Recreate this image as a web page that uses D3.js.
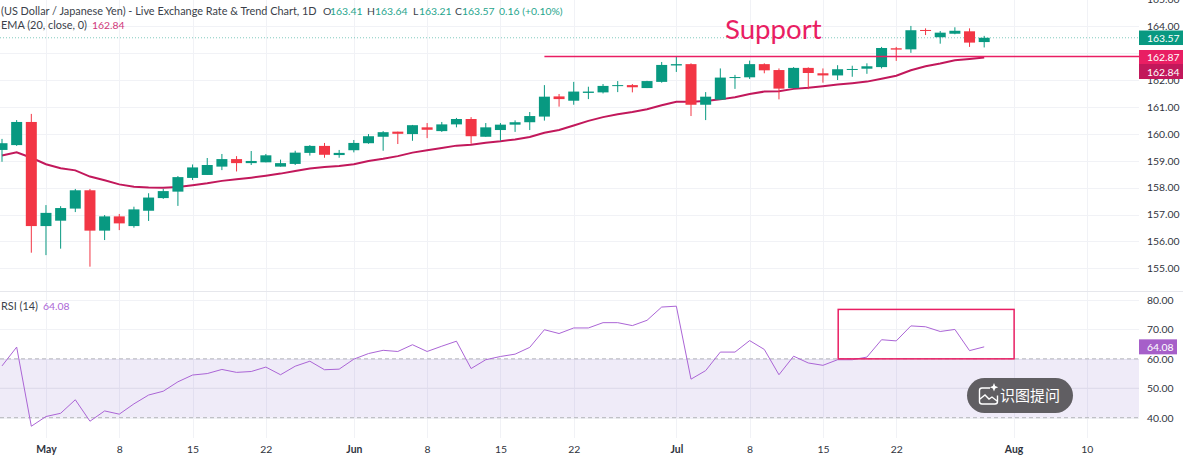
<!DOCTYPE html>
<html>
<head>
<meta charset="utf-8">
<style>
  html, body { margin: 0; padding: 0; background: #fff; overflow: hidden; }
  svg { display: block; }
  text { font-family: "Lato", "Noto Sans", sans-serif; }
  .axis text { font-size: 10.4px; fill: #2f333d; }
  .axis .domain, .axis line { display: none; }
</style>
<script src="https://cdn.jsdelivr.net/npm/d3@7"></script>
</head>
<body>
<svg id="chart" width="1183" height="463"></svg>
<script>
var opens = [159.40,159.58,160.44,156.57,156.77,157.22,157.90,156.40,156.93,156.57,157.14,157.61,157.85,158.36,158.47,158.78,159.06,158.91,158.94,158.78,
  158.88,159.29,159.55,159.21,159.39,159.65,159.89,160.08,159.99,160.24,160.10,160.35,160.55,159.89,160.14,160.34,160.43,160.64,161.39,161.23,
  161.52,161.54,161.78,161.81,161.70,161.93,162.54,162.59,161.08,161.27,162.09,162.10,162.59,162.37,161.70,162.45,162.25,162.17,162.38,162.42,
  162.48,163.18,163.14,163.86,163.59,163.72,163.81,163.41];
var highs = [159.81,160.51,160.74,157.35,157.31,157.95,157.95,156.98,157.02,157.29,157.79,157.95,158.43,158.86,159.10,159.25,159.17,159.36,159.25,159.04,
  159.37,159.58,159.66,159.40,159.77,159.99,160.10,160.08,160.33,160.40,160.44,160.59,160.62,160.40,160.40,160.50,160.81,161.81,161.48,161.93,
  161.75,161.85,161.96,161.85,161.97,162.67,162.89,162.62,161.55,162.43,162.19,162.72,162.62,162.43,162.48,162.47,162.43,162.55,162.53,162.62,
  163.23,163.23,164.01,163.92,163.82,163.96,163.92,163.64];
var lows = [158.96,159.55,155.58,155.49,155.73,157.09,155.06,156.05,156.42,156.51,156.76,157.58,157.32,158.28,158.47,158.65,158.60,158.84,158.94,158.78,
  158.84,159.19,159.11,159.11,159.31,159.63,159.37,159.62,159.74,159.84,160.07,160.24,159.63,159.89,159.74,160.07,160.14,160.49,161.01,161.08,
  161.29,161.50,161.55,161.54,161.70,161.90,162.30,160.66,160.51,161.26,161.67,162.04,162.25,161.28,161.69,161.66,161.90,162.00,162.12,162.23,
  162.43,162.71,163.01,163.67,163.35,163.70,163.23,163.21];
var closes = [159.65,160.44,156.57,157.06,157.24,157.90,156.40,156.93,156.67,157.19,157.63,157.87,158.39,158.75,158.84,159.06,158.91,158.99,159.20,158.91,
  159.30,159.55,159.22,159.29,159.66,159.91,160.06,160.00,160.32,160.15,160.35,160.55,159.91,160.24,160.34,160.43,160.66,161.38,161.29,161.57,
  161.57,161.78,161.81,161.73,161.96,162.56,162.59,161.08,161.38,162.09,162.11,162.59,162.36,161.68,162.45,162.26,162.17,162.40,162.41,162.51,
  163.19,163.13,163.85,163.83,163.76,163.83,163.39,163.57];
var emaValues = [159.19,159.31,159.11,158.87,158.72,158.64,158.41,158.27,158.12,158.03,158.00,157.99,158.02,158.09,158.16,158.25,158.31,158.37,158.44,158.52,
  158.62,158.71,158.77,158.80,158.87,158.99,159.07,159.17,159.30,159.39,159.47,159.56,159.59,159.67,159.72,159.79,159.88,160.04,160.14,160.31,
  160.48,160.62,160.73,160.81,160.91,161.06,161.19,161.19,161.22,161.28,161.36,161.48,161.57,161.58,161.67,161.71,161.77,161.83,161.88,161.94,
  162.05,162.16,162.36,162.51,162.61,162.73,162.78,162.84];
var rsiValues = [57.6,64.0,37.1,40.4,41.5,46.1,38.8,42.3,41.2,44.7,47.7,49.0,52.2,54.5,55.0,56.4,55.4,55.7,57.2,54.6,
  57.5,59.2,56.3,56.5,59.9,61.8,62.9,62.5,64.8,62.5,64.3,66.0,56.7,59.7,60.8,61.6,63.9,69.9,68.6,70.5,
  70.5,72.3,72.3,71.3,73.1,77.6,77.9,53.1,56.0,62.3,62.3,66.2,63.2,54.6,60.9,58.6,57.8,59.7,59.7,60.6,
  66.5,66.1,71.2,70.9,69.3,70.0,62.8,64.08];

var dateTicks = [3,8,13,18,24,29,34,39,46,51,56,61,69,74];
var dateLabels = ["May","8","15","22","Jun","8","15","22","Jul","8","15","22","Aug","10"];
var boldLabels = ["May","Jun","Jul","Aug"];
var priceTicks = [155,156,157,158,159,160,161,162,163,164,165];
var priceLabels = [155,156,157,158,159,160,161,162,164,165]; // 163 sits behind the tags
var rsiTicks = [40,50,60,70,80];
var supportLevel = 162.87, lastEma = 162.84, lastClose = 163.57, lastRsi = 64.08;
var supportStart = 37.0; // bar position where the drawn line begins

var width = 1183, height = 463, axisLeft = 1139, pricePaneBottom = 291, rsiPaneBottom = 438;
var green = "#089981", red = "#f23645", pink = "#e91e63", emaColor = "#c2185b", purple = "#ab65d6";

var svg = d3.select("#chart");

var x = d3.scaleLinear().domain([0, 77.56]).range([2, axisLeft]);
var y = d3.scaleLinear().domain([165, 155]).range([-0.7, 268.3]);
var yRsi = d3.scaleLinear().domain([80, 40]).range([300, 417.7]);

// gridlines
var grid = svg.append("g").attr("stroke", "#f1f2f6").attr("stroke-width", 1);
grid.selectAll(".v").data(dateTicks).enter().append("line")
    .attr("x1", function (d) { return Math.round(x(d)) + 0.5; })
    .attr("x2", function (d) { return Math.round(x(d)) + 0.5; })
    .attr("y1", 0).attr("y2", rsiPaneBottom);
grid.selectAll(".h").data(priceTicks).enter().append("line")
    .attr("x1", 0).attr("x2", axisLeft)
    .attr("y1", function (d) { return Math.round(y(d)) + 0.5; })
    .attr("y2", function (d) { return Math.round(y(d)) + 0.5; });
grid.selectAll(".r").data(rsiTicks).enter().append("line")
    .attr("x1", 0).attr("x2", axisLeft)
    .attr("y1", function (d) { return Math.round(yRsi(d)) + 0.5; })
    .attr("y2", function (d) { return Math.round(yRsi(d)) + 0.5; });

// pane separator
svg.append("line").attr("x1", 0).attr("x2", width)
    .attr("y1", pricePaneBottom + 0.5).attr("y2", pricePaneBottom + 0.5)
    .attr("stroke", "#e6e7ec");

// RSI band
svg.append("rect").attr("x", 0).attr("width", axisLeft)
    .attr("y", yRsi(60)).attr("height", yRsi(40) - yRsi(60))
    .attr("fill", "#7e57c2").attr("fill-opacity", 0.12);
svg.selectAll(".band").data([60, 40]).enter().append("line")
    .attr("x1", 0).attr("x2", axisLeft)
    .attr("y1", function (d) { return yRsi(d); })
    .attr("y2", function (d) { return yRsi(d); })
    .attr("stroke", "#b4b5bb").attr("stroke-dasharray", "4 3");
svg.append("line").attr("x1", 0).attr("x2", axisLeft)
    .attr("y1", yRsi(50)).attr("y2", yRsi(50)).attr("stroke", "#dfdbea");

// last price dotted line
svg.append("line").attr("x1", 0).attr("x2", axisLeft)
    .attr("y1", y(lastClose)).attr("y2", y(lastClose))
    .attr("stroke", green).attr("stroke-opacity", 0.5).attr("stroke-dasharray", "1 2");

// EMA
var emaLine = d3.line()
    .x(function (d, i) { return x(i); })
    .y(function (d) { return y(d); });
svg.append("path").datum(emaValues)
    .attr("d", emaLine)
    .attr("fill", "none").attr("stroke", emaColor).attr("stroke-width", 2);

// candles
var bars = svg.append("g").selectAll("g")
    .data(closes.map(function (c, i) {
        return { i: i, o: opens[i], h: highs[i], l: lows[i], c: c };
    }))
    .enter().append("g")
    .attr("fill", function (d) { return d.c >= d.o ? green : red; })
    .attr("stroke", function (d) { return d.c >= d.o ? green : red; });
bars.append("line")
    .attr("x1", function (d) { return x(d.i); })
    .attr("x2", function (d) { return x(d.i); })
    .attr("y1", function (d) { return y(d.h); })
    .attr("y2", function (d) { return y(d.l); })
    .attr("stroke-width", 1);
bars.append("rect")
    .attr("x", function (d) { return x(d.i) - 5.5; })
    .attr("width", 11)
    .attr("y", function (d) { return y(Math.max(d.o, d.c)); })
    .attr("height", function (d) { return Math.max(1, Math.abs(y(d.o) - y(d.c))); })
    .attr("stroke", "none");

// RSI line
var rsiLine = d3.line()
    .x(function (d, i) { return x(i); })
    .y(function (d) { return yRsi(d); });
svg.append("path").datum(rsiValues)
    .attr("d", rsiLine)
    .attr("fill", "none").attr("stroke", purple).attr("stroke-width", 1);

// drawn support line, label and box
svg.append("line")
    .attr("x1", x(supportStart)).attr("x2", axisLeft)
    .attr("y1", y(supportLevel)).attr("y2", y(supportLevel))
    .attr("stroke", pink).attr("stroke-width", 1.5);
svg.append("text").attr("x", 725).attr("y", 39)
    .attr("font-size", 27.6).attr("fill", pink).text("Support");
svg.append("rect")
    .attr("x", x(57) + 0.6).attr("y", yRsi(76.8))
    .attr("width", x(69) - x(57)).attr("height", yRsi(60) - yRsi(76.8))
    .attr("fill", "none").attr("stroke", pink).attr("stroke-width", 1.5);

// right axes
svg.append("g").attr("class", "axis")
    .attr("transform", "translate(" + (axisLeft + 5) + ",0)")
    .call(d3.axisRight(y).tickValues(priceLabels).tickSize(0).tickFormat(d3.format(".2f")));
svg.append("g").attr("class", "axis")
    .attr("transform", "translate(" + (axisLeft + 5) + ",0)")
    .call(d3.axisRight(yRsi).tickValues(rsiTicks).tickSize(0).tickFormat(d3.format(".2f")));

// time axis
var timeAxis = svg.append("g").attr("class", "axis")
    .attr("transform", "translate(0,443)")
    .call(d3.axisBottom(x).tickValues(dateTicks).tickSize(0)
        .tickFormat(function (d, i) { return dateLabels[i]; }));
timeAxis.selectAll("text")
    .attr("font-weight", function (d, i) { return boldLabels.indexOf(dateLabels[i]) >= 0 ? "700" : "400"; });

// price tags
function tag(value, centre, color, w, h) {
    svg.append("rect").attr("x", axisLeft).attr("y", centre - h / 2)
        .attr("width", w).attr("height", h).attr("fill", color);
    svg.append("text").attr("x", axisLeft + 8).attr("y", centre + 4)
        .attr("font-size", 10.4).attr("fill", "#fff").text(value.toFixed(2));
}
tag(lastClose, y(lastClose), green, 44, 14.5);
tag(lastEma, 71.5, emaColor, 44, 15);
tag(supportLevel, 57, pink, 44, 14);
tag(lastRsi, yRsi(lastRsi), "#a65fc9", 38, 15);

// legend
var legendGrey = "#3b3f4a", legendGreen = "#1fa58d";
function legendText(xPos, yPos, str, color, size) {
    svg.append("text").attr("x", xPos).attr("y", yPos)
        .attr("font-size", size || 10.4).attr("fill", color).text(str);
}
legendText(1, 15, "(US Dollar / Japanese Yen) - Live Exchange Rate & Trend Chart, 1D", legendGrey, 10.9);
legendText(323, 15, "O", legendGrey);
legendText(330, 15, "163.41", legendGreen);
legendText(367, 15, "H", legendGrey);
legendText(375, 15, "163.64", legendGreen);
legendText(413, 15, "L", legendGrey);
legendText(419, 15, "163.21", legendGreen);
legendText(455, 15, "C", legendGrey);
legendText(462, 15, "163.57", legendGreen);
legendText(499, 15, "0.16 (+0.10%)", legendGreen);
legendText(1, 29, "EMA (20, close, 0)", legendGrey, 10.9);
legendText(92, 29, "162.84", "#d0377a");
legendText(1, 310, "RSI (14)", legendGrey, 10.9);
legendText(43, 310, "64.08", "#ab65d6");

// image search pill from the screenshot overlay
var pill = svg.append("g");
pill.append("rect").attr("x", 967).attr("y", 378).attr("width", 106).attr("height", 35)
    .attr("rx", 17.5).attr("fill", "#605e62");
pill.append("path")
    .attr("d", "M990 388h-8a2.5 2.5 0 0 0-2.5 2.5v11a2.5 2.5 0 0 0 2.5 2.5h13a2.5 2.5 0 0 0 2.5-2.5v-6M980 399l5-4 4 4 3-2 5 4")
    .attr("fill", "none").attr("stroke", "#fff").attr("stroke-width", 1.4);
pill.append("path").attr("d", "M994 383l1.2 3 3 1.2-3 1.2-1.2 3-1.2-3-3-1.2 3-1.2z").attr("fill", "#fff");
pill.append("text").attr("x", 1000).attr("y", 401)
    .attr("font-size", 15).attr("fill", "#fff")
    .style("font-family", '"Noto Sans CJK SC", sans-serif').text("识图提问");
</script>
</body>
</html>
